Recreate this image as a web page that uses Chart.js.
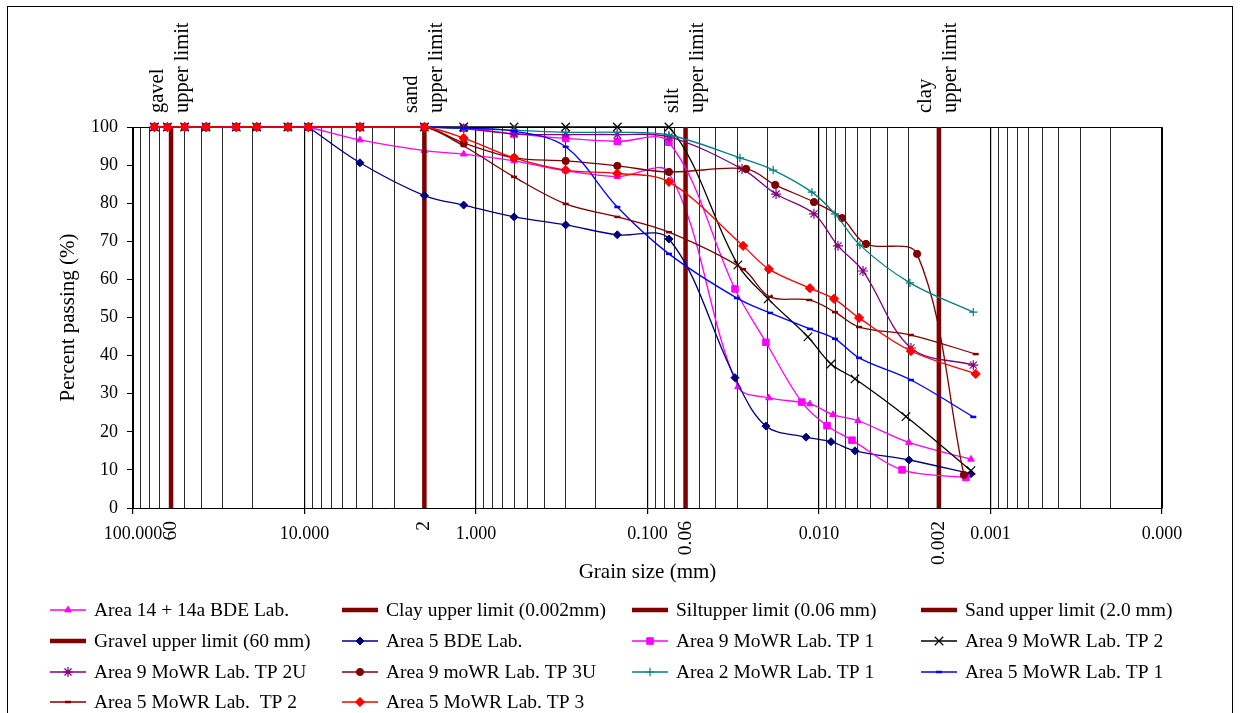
<!DOCTYPE html>
<html>
<head>
	<meta charset="utf-8">
	<title>Grain size distribution</title>
	<script src="https://cdn.jsdelivr.net/npm/chart.js"></script>
	<style>
		html, body { margin: 0; padding: 0; background: #fff; }
		#wrap { width: 1241px; height: 713px; position: relative; }
	</style>
</head>
<body>
	<div id="wrap"><canvas id="gradChart"></canvas></div>

<script>
    // sieve sizes in mm (MoWR lab runs all of them, BDE lab starts at 9.5)
    const sieveSizes = [75, 63, 50, 37.5, 25, 19, 12.5, 9.5, 4.75, 2.0, 1.18, 0.6, 0.3, 0.15, 0.075];
    const bdeSieveSizes = [9.5, 4.75, 2.0, 1.18, 0.6, 0.3, 0.15, 0.075];

    // Area 14 + 14a BDE Lab.
    const a14Sizes = bdeSieveSizes.concat([0.0297, 0.0196, 0.0113, 0.00829, 0.00592, 0.00299, 0.0013]);
    const a14Pass = [100, 96.6, 93.8, 92.9, 91.1, 88.5, 87.0, 88.0, 31.8, 28.9, 27.3, 24.5, 22.9, 17.2, 12.8];

    // Area 5 BDE Lab.
    const a5bdeSizes = bdeSieveSizes.concat([0.0309, 0.0204, 0.0119, 0.00851, 0.00617, 0.00299, 0.0013]);
    const a5bdePass = [100, 90.6, 82.0, 79.5, 76.4, 74.3, 71.7, 70.6, 34.2, 21.5, 18.6, 17.4, 15.0, 12.6, 9.0];

    // Area 9 MoWR Lab. TP 1
    const a9tp1Sizes = sieveSizes.concat([0.0309, 0.0204, 0.0126, 0.00898, 0.00642, 0.00328, 0.00139]);
    const a9tp1Pass = [100, 100, 100, 100, 100, 100, 100, 100, 100, 100, 99.7, 98.2, 97.0, 96.2, 96.0,
                       57.5, 43.5, 27.8, 21.6, 17.8, 10.0, 8.0];

    // Area 9 MoWR Lab. TP 2
    const a9tp2Sizes = sieveSizes.concat([0.0297, 0.0198, 0.0116, 0.00851, 0.00617, 0.00311, 0.0013]);
    const a9tp2Pass = [100, 100, 100, 100, 100, 100, 100, 100, 100, 100, 100, 100, 100, 100, 100,
                       63.8, 54.9, 44.9, 37.8, 33.9, 24.0, 9.8];

    // Area 9 MoWR Lab. TP 2U
    const a9tp2uSizes = sieveSizes.concat([0.0281, 0.0178, 0.0107, 0.00775, 0.00554, 0.00291, 0.00126]);
    const a9tp2uPass = [100, 100, 100, 100, 100, 100, 100, 100, 100, 100, 99.6, 98.2, 98.0, 98.0, 97.4,
                        89.0, 82.4, 77.2, 68.8, 62.2, 42.0, 37.5];

    // Area 9 moWR Lab. TP 3U
    const a9tp3uSizes = sieveSizes.concat([0.0266, 0.0180, 0.0107, 0.00734, 0.00532, 0.00268, 0.00143]);
    const a9tp3uPass = [100, 100, 100, 100, 100, 100, 100, 100, 100, 100, 95.8, 91.9, 91.1, 89.8, 88.2,
                        89.0, 84.8, 80.3, 76.1, 69.3, 66.7, 8.7];

    // Area 2 MoWR Lab. TP 1
    const a2tp1Sizes = sieveSizes.concat([0.0289, 0.0185, 0.0110, 0.00807, 0.00577, 0.00295, 0.00126]);
    const a2tp1Pass = [100, 100, 100, 100, 100, 100, 100, 100, 100, 100, 99.6, 99.2, 98.6, 98.6, 97.9,
                       91.9, 88.7, 82.9, 77.2, 69.0, 59.1, 51.4];

    // Area 5 MoWR Lab. TP 1
    const a5tp1Sizes = sieveSizes.concat([0.0301, 0.0193, 0.0113, 0.00807, 0.00584, 0.00291, 0.00126]);
    const a5tp1Pass = [100, 100, 100, 100, 100, 100, 100, 100, 100, 100, 99.7, 98.9, 94.8, 79.0, 66.7,
                       55.1, 51.2, 47.0, 44.4, 39.4, 33.6, 23.9];

    // Area 5 MoWR Lab. TP 2
    const a5tp2Sizes = sieveSizes.concat([0.0277, 0.0193, 0.0114, 0.00807, 0.00584, 0.00291, 0.00122]);
    const a5tp2Pass = [100, 100, 100, 100, 100, 100, 100, 100, 100, 100, 95.0, 86.9, 79.8, 76.4, 72.4,
                       62.7, 55.4, 54.6, 51.4, 47.5, 45.4, 40.4];

    // Area 5 MoWR Lab. TP 3
    const a5tp3Sizes = sieveSizes.concat([0.0277, 0.0196, 0.0113, 0.00818, 0.00584, 0.00291, 0.00122]);
    const a5tp3Pass = [100, 100, 100, 100, 100, 100, 100, 100, 100, 100, 97.1, 91.9, 88.7, 87.8, 85.6,
                       68.8, 62.7, 57.7, 54.9, 49.9, 41.2, 35.2];

    // soil class limits (mm), drawn as vertical lines from 0 to 100 %
    const clayLimit = 0.002, siltLimit = 0.06, sandLimit = 2.0, gravelLimit = 60;
    const limitPass = [0, 100];
    const limitTickLabels = ['0.002', '0.06', '2', '60'];
    const limitNotes = [['clay', 'upper limit'], ['silt', 'upper limit'], ['sand', 'upper limit'], ['gavel', 'upper limit']];

    // axis ticks
    const decadeTicks = [100, 10, 1, 0.1, 0.01, 0.001, 0.0001];
    const passTicks = [0, 10, 20, 30, 40, 50, 60, 70, 80, 90, 100];

    const serif = "'Liberation Serif', 'Times New Roman', serif";

    // minor log grid: 2..9 inside every decade
    const gridValues = [];
    decadeTicks.forEach(d => {
        gridValues.push(d);
        if (d < 100) {
            for (let m = 2; m <= 9; m++) gridValues.push(Number((m * d).toPrecision(3)));
        }
    });
    function isDecade(v) {
        const l = Math.log10(v);
        return Math.abs(l - Math.round(l)) < 1e-6;
    }

    function series(label, sizes, pass, color, style, radius, width) {
        return {
            label: label,
            data: sizes.map((s, i) => ({x: s, y: pass[i]})),
            borderColor: color,
            backgroundColor: color,
            pointBackgroundColor: color,
            pointBorderColor: color,
            pointStyle: style,
            pointRadius: radius,
            pointHoverRadius: radius,
            pointBorderWidth: width || 1,
            borderWidth: 1.3,
            tension: 0.35,
            fill: false,
            clip: 8
        };
    }
    function limitLine(label, size) {
        return {
            label: label,
            data: limitPass.map(p => ({x: size, y: p})),
            borderColor: '#800000',
            backgroundColor: '#800000',
            borderWidth: 4.5,
            pointRadius: 0,
            pointHoverRadius: 0,
            tension: 0,
            fill: false,
            clip: 8
        };
    }

    const datasets = [
        series('Area 14 + 14a BDE Lab.', a14Sizes, a14Pass, '#FF00FF', 'triangle', 3.8),
        limitLine('Clay upper limit (0.002mm)', clayLimit),
        limitLine('Siltupper limit (0.06 mm)', siltLimit),
        limitLine('Sand upper limit (2.0 mm)', sandLimit),
        limitLine('Gravel upper limit (60 mm)', gravelLimit),
        series('Area 5 BDE Lab.', a5bdeSizes, a5bdePass, '#000080', 'rectRot', 4),
        series('Area 9 MoWR Lab. TP 1', a9tp1Sizes, a9tp1Pass, '#FF00FF', 'rect', 4.6),
        series('Area 9 MoWR Lab. TP 2', a9tp2Sizes, a9tp2Pass, '#000000', 'crossRot', 6, 1.2),
        series('Area 9 MoWR Lab. TP 2U', a9tp2uSizes, a9tp2uPass, '#800080', 'star', 5, 1.2),
        series('Area 9 moWR Lab. TP 3U', a9tp3uSizes, a9tp3uPass, '#800000', 'circle', 3.6),
        series('Area 2 MoWR Lab. TP 1', a2tp1Sizes, a2tp1Pass, '#008080', 'cross', 4.2, 1.2),
        series('Area 5 MoWR Lab. TP 1', a5tp1Sizes, a5tp1Pass, '#0000FF', 'line', 3, 2.5),
        series('Area 5 MoWR Lab.  TP 2', a5tp2Sizes, a5tp2Pass, '#800000', 'line', 3, 2.5),
        series('Area 5 MoWR Lab. TP 3', a5tp3Sizes, a5tp3Pass, '#FF0000', 'rectRot', 4.6)
    ];
    // later series sit on top, like the original
    datasets.forEach((d, i) => { d.order = datasets.length - 1 - i; });

    function drawMarker(ctx, ds, x, y) {
        if (!ds.pointRadius) return;
        ctx.save();
        ctx.fillStyle = ds.pointBackgroundColor;
        ctx.strokeStyle = ds.pointBorderColor;
        ctx.lineWidth = ds.pointBorderWidth;
        if (Chart.helpers && Chart.helpers.drawPoint) {
            Chart.helpers.drawPoint(ctx, {pointStyle: ds.pointStyle, rotation: 0,
                radius: ds.pointRadius, borderWidth: ds.pointBorderWidth}, x, y);
        } else {
            ctx.beginPath();
            ctx.arc(x, y, ds.pointRadius, 0, Math.PI * 2);
            ctx.fill();
        }
        ctx.restore();
    }

    const decorations = {
        id: 'decorations',
        beforeDraw(chart) {
            const ctx = chart.ctx;
            ctx.save();
            ctx.fillStyle = '#fff';
            ctx.fillRect(0, 0, chart.width, chart.height);
            ctx.strokeStyle = '#000';
            ctx.lineWidth = 1;
            ctx.strokeRect(7.5, 6.5, 1225, 730);
            ctx.restore();
        },
        beforeDatasetsDraw(chart) {
            const ctx = chart.ctx, a = chart.chartArea;
            ctx.save();
            ctx.strokeStyle = '#000';
            ctx.lineWidth = 1;
            ctx.beginPath();
            ctx.moveTo(Math.round(a.left) + 0.5, Math.round(a.top) + 0.5);
            ctx.lineTo(Math.round(a.right) + 0.5, Math.round(a.top) + 0.5);
            ctx.lineTo(Math.round(a.right) + 0.5, Math.round(a.bottom) + 0.5);
            ctx.stroke();
            ctx.restore();
        },
        afterDraw(chart) {
            const ctx = chart.ctx, xs = chart.scales.x;
            const limits = [clayLimit, siltLimit, sandLimit, gravelLimit];
            ctx.save();
            ctx.fillStyle = '#000';
            limits.forEach((v, i) => {
                const px = xs.getPixelForValue(v);
                // notes above the plot
                ctx.font = '20.5px ' + serif;
                ctx.textAlign = 'left';
                ctx.textBaseline = 'middle';
                [-13, 12].forEach((off, k) => {
                    ctx.save();
                    ctx.translate(px + off, 113);
                    ctx.rotate(-Math.PI / 2);
                    ctx.fillText(limitNotes[i][k], 0, 0);
                    ctx.restore();
                });
                // rotated value under the axis
                ctx.font = '19.5px ' + serif;
                ctx.textAlign = 'right';
                ctx.save();
                ctx.translate(px, 521);
                ctx.rotate(-Math.PI / 2);
                ctx.fillText(limitTickLabels[i], 0, 0);
                ctx.restore();
            });

            // legend, 4 columns
            const cols = [50, 342, 632, 921];
            const rows = [610, 641, 672, 702];
            ctx.font = '19.5px ' + serif;
            ctx.textAlign = 'left';
            ctx.textBaseline = 'middle';
            chart.data.datasets.forEach((ds, i) => {
                const x0 = cols[i % 4], y = rows[Math.floor(i / 4)];
                ctx.save();
                ctx.strokeStyle = ds.borderColor;
                ctx.lineWidth = ds.borderWidth;
                ctx.beginPath();
                ctx.moveTo(x0, y);
                ctx.lineTo(x0 + 36, y);
                ctx.stroke();
                ctx.restore();
                drawMarker(ctx, ds, x0 + 18, y);
                ctx.fillStyle = '#000';
                ctx.fillText(ds.label, x0 + 44, y + 1);
            });
            ctx.restore();
        }
    };

    const ctx = document.getElementById('gradChart');
    new Chart(ctx, {
        type: 'line',
        data: { datasets: datasets },
        options: {
            responsive: true,
            maintainAspectRatio: false,
            animation: false,
            events: [],
            layout: { padding: { left: 56, top: 127, right: 79, bottom: 128 } },
            plugins: {
                legend: { display: false },
                tooltip: { enabled: false },
                title: { display: false }
            },
            scales: {
                x: {
                    type: 'logarithmic',
                    reverse: true,
                    min: 0.0001,
                    max: 100,
                    afterBuildTicks: (scale) => { scale.ticks = gridValues.map(v => ({value: v})); },
                    afterFit: (scale) => { scale.height = 77; },
                    ticks: {
                        autoSkip: false,
                        maxRotation: 0,
                        minRotation: 0,
                        padding: 9,
                        color: '#000',
                        font: { family: serif, size: 18 },
                        callback: (v) => isDecade(v) ? Number(v).toFixed(3) : ''
                    },
                    grid: {
                        color: (c) => (c.tick && isDecade(c.tick.value)) ? '#000' : '#2a2a2a',
                        lineWidth: (c) => (c.tick && isDecade(c.tick.value)) ? 1.2 : 1,
                        tickLength: 6,
                        tickColor: (c) => (c.tick && isDecade(c.tick.value)) ? '#000' : 'rgba(0,0,0,0)'
                    },
                    border: { color: '#000', width: 1 },
                    title: {
                        display: true,
                        text: 'Grain size (mm)',
                        color: '#000',
                        font: { family: serif, size: 21 },
                        padding: 0
                    }
                },
                y: {
                    min: 0,
                    max: 100,
                    afterBuildTicks: (scale) => { scale.ticks = passTicks.map(v => ({value: v})); },
                    afterFit: (scale) => { scale.width = 77; },
                    ticks: {
                        padding: 9,
                        color: '#000',
                        font: { family: serif, size: 18 }
                    },
                    grid: { drawOnChartArea: false, tickLength: 6, tickColor: '#000' },
                    border: { color: '#000', width: 1 },
                    title: {
                        display: true,
                        text: 'Percent passing (%)',
                        color: '#000',
                        font: { family: serif, size: 21 },
                        padding: 0
                    }
                }
            }
        },
        plugins: [decorations]
    });
</script>
</body>
</html>
